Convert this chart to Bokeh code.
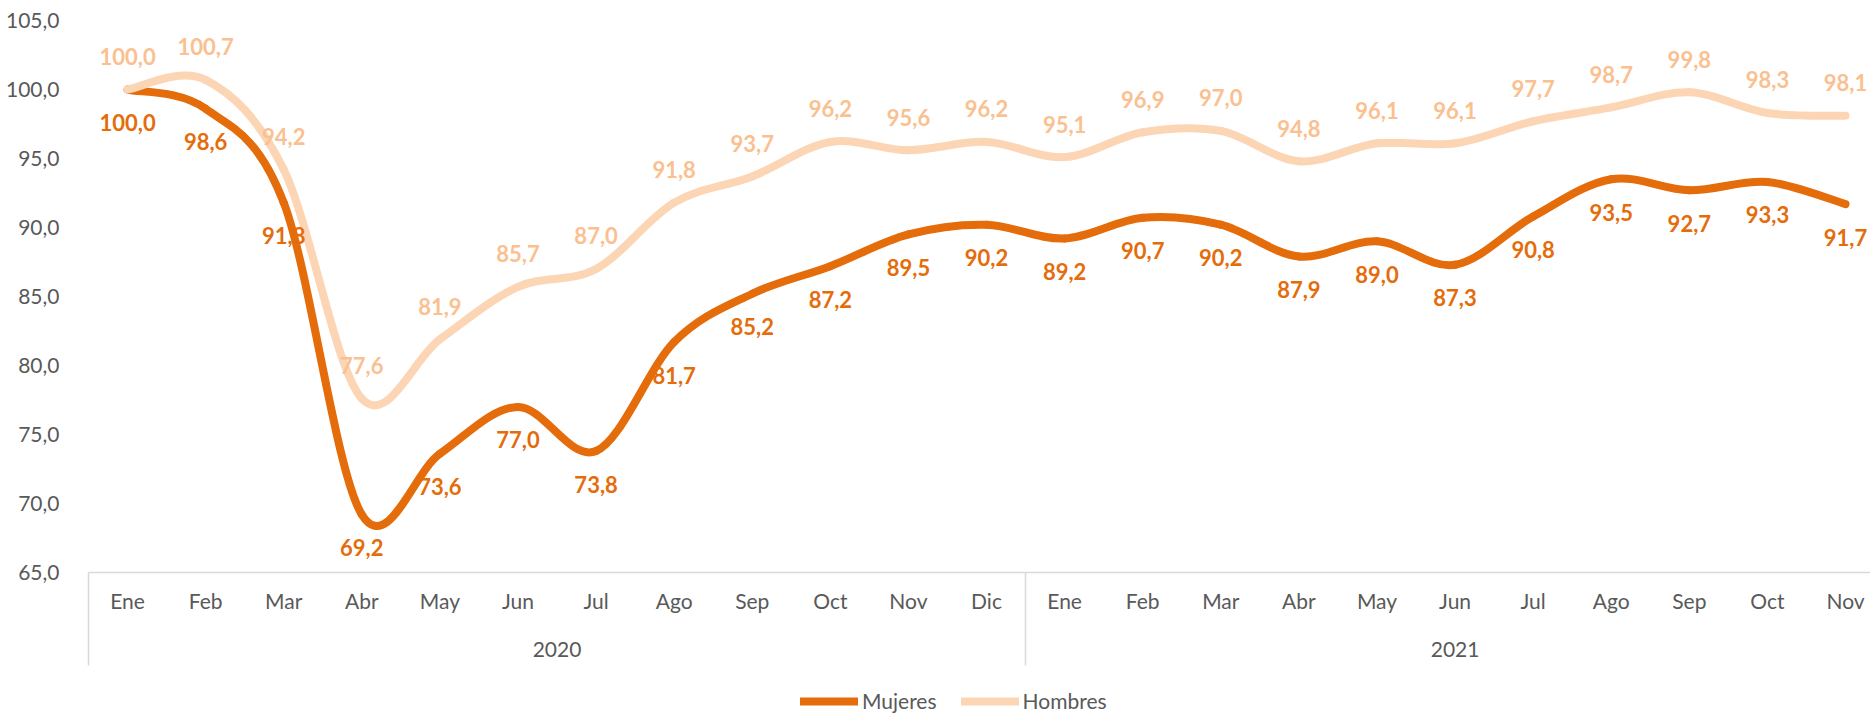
from bokeh.plotting import figure
from bokeh.layouts import column
from bokeh.models import Range1d, LinearAxis, FixedTicker, Legend, LegendItem, ColumnDataSource
from bokeh.core.properties import value
from bokeh.embed import file_html
from bokeh.resources import INLINE

# ---- data ----
months = ["Ene", "Feb", "Mar", "Abr", "May", "Jun", "Jul", "Ago", "Sep", "Oct", "Nov", "Dic",
          "Ene", "Feb", "Mar", "Abr", "May", "Jun", "Jul", "Ago", "Sep", "Oct", "Nov"]
years = ["2020", "2021"]
year_counts = [12, 11]
series_names = ["Mujeres", "Hombres"]
mujeres = [100.0, 98.6, 91.8, 69.2, 73.6, 77.0, 73.8, 81.7, 85.2, 87.2, 89.5, 90.2,
           89.2, 90.7, 90.2, 87.9, 89.0, 87.3, 90.8, 93.5, 92.7, 93.3, 91.7]
hombres = [100.0, 100.7, 94.2, 77.6, 81.9, 85.7, 87.0, 91.8, 93.7, 96.2, 95.6, 96.2,
           95.1, 96.9, 97.0, 94.8, 96.1, 96.1, 97.7, 98.7, 99.8, 98.3, 98.1]
y_ticks = [65, 70, 75, 80, 85, 90, 95, 100, 105]

C_M = "#E46C0A"
C_H_LINE = "#FCD5B5"
C_H_TEXT = "#FAC090"
C_AX = "#595959"
C_GRID = "#D9D9D9"
FONT = "Lato"
SEP_LEN = 93
LW = 8


def fmt(v):
    return f"{v:.1f}".replace(".", ",")


def bezier_source(vals):
    n = len(vals)
    xs = list(range(n))
    d = dict(x0=[], y0=[], x1=[], y1=[], cx0=[], cy0=[], cx1=[], cy1=[])
    for i in range(n - 1):
        im1 = i - 1 if i > 0 else i
        ip2 = i + 2 if i + 2 < n else i + 1
        d["x0"].append(xs[i]); d["y0"].append(vals[i])
        d["x1"].append(xs[i + 1]); d["y1"].append(vals[i + 1])
        d["cx0"].append(xs[i] + (xs[i + 1] - xs[im1]) / 6)
        d["cy0"].append(vals[i] + (vals[i + 1] - vals[im1]) / 6)
        d["cx1"].append(xs[i + 1] - (xs[ip2] - xs[i]) / 6)
        d["cy1"].append(vals[i + 1] - (vals[ip2] - vals[i]) / 6)
    return ColumnDataSource(d)


n = len(months)
p = figure(frame_width=1782, frame_height=552,
           x_range=Range1d(-0.5, 22.32), y_range=Range1d(65, 105),
           x_axis_location=None, output_backend="svg", toolbar_location=None,
           min_border_left=88, min_border_right=0, min_border_top=20, min_border_bottom=96)
p.outline_line_color = None
p.grid.visible = False

# y axis
ya = p.yaxis[0]
ya.ticker = FixedTicker(ticks=y_ticks)
ya.major_label_overrides = {t: fmt(t) for t in y_ticks}
ya.axis_line_color = None
ya.major_tick_line_color = None
ya.minor_tick_line_color = None
ya.major_label_standoff = 23
ya.major_label_text_font = FONT
ya.major_label_text_font_size = "21px"
ya.major_label_text_color = C_AX

# month axis; group separators drawn as long minor ticks
sep = [-0.5]
acc = 0
for c in year_counts[:-1]:
    acc += c
    sep.append(acc - 0.5)
month_axis = LinearAxis(ticker=FixedTicker(ticks=list(range(n)), minor_ticks=sep))
month_axis.major_label_overrides = {i: m for i, m in enumerate(months)}
month_axis.axis_line_color = C_GRID
month_axis.axis_line_width = 1.5
month_axis.major_tick_line_color = None
month_axis.major_tick_out = 0
month_axis.major_tick_in = 0
month_axis.minor_tick_line_color = C_GRID
month_axis.minor_tick_line_width = 1.5
month_axis.minor_tick_in = 0
month_axis.minor_tick_out = SEP_LEN
month_axis.major_label_standoff = 15 - SEP_LEN
month_axis.major_label_text_font = FONT
month_axis.major_label_text_font_size = "21px"
month_axis.major_label_text_color = C_AX
p.add_layout(month_axis, "below")

# year axis
centers = []
acc = 0
for c in year_counts:
    centers.append(acc + (c - 1) / 2)
    acc += c
year_axis = LinearAxis(ticker=FixedTicker(ticks=centers, minor_ticks=[]))
year_axis.major_label_overrides = {c: y for c, y in zip(centers, years)}
year_axis.axis_line_color = None
year_axis.major_tick_line_color = None
year_axis.minor_tick_line_color = None
year_axis.major_tick_out = 0
year_axis.major_tick_in = 0
year_axis.major_label_standoff = 26
year_axis.major_label_text_font = FONT
year_axis.major_label_text_font_size = "21px"
year_axis.major_label_text_color = C_AX
p.add_layout(year_axis, "below")

# lines
r_m = p.bezier(x0="x0", y0="y0", x1="x1", y1="y1", cx0="cx0", cy0="cy0", cx1="cx1", cy1="cy1",
               source=bezier_source(mujeres), line_color=C_M, line_width=LW, line_cap="round")
r_h = p.bezier(x0="x0", y0="y0", x1="x1", y1="y1", cx0="cx0", cy0="cy0", cx1="cx1", cy1="cy1",
               source=bezier_source(hombres), line_color=C_H_LINE, line_width=LW, line_cap="round")

# data labels
src_m = ColumnDataSource(dict(x=list(range(n)), y=mujeres, t=[fmt(v) for v in mujeres]))
src_h = ColumnDataSource(dict(x=list(range(n)), y=hombres, t=[fmt(v) for v in hombres]))
p.text(x="x", y="y", text="t", source=src_m, text_font=value(FONT), text_font_style="bold",
       text_font_size="22px", text_color=C_M, text_align="center", text_baseline="middle",
       y_offset=33)
p.text(x="x", y="y", text="t", source=src_h, text_font=value(FONT), text_font_style="bold",
       text_font_size="22px", text_color=C_H_TEXT, text_align="center", text_baseline="middle",
       y_offset=-33)

# legend strip below the chart (frame aligned with the main chart's frame)
leg_h = 45
p2 = figure(width=1870, height=leg_h, x_range=Range1d(0, 1870), y_range=Range1d(0, leg_h),
            x_axis_location=None, y_axis_location=None, output_backend="svg",
            toolbar_location=None, min_border=0)
p2.outline_line_color = None
p2.grid.visible = False
nan = float("nan")
lm = p2.line(x=[nan], y=[nan], line_color=C_M, line_width=LW, line_cap="round")
lh = p2.line(x=[nan], y=[nan], line_color=C_H_LINE, line_width=LW, line_cap="round")
legend = Legend(items=[LegendItem(label=series_names[0], renderers=[lm]),
                       LegendItem(label=series_names[1], renderers=[lh])],
                orientation="horizontal", location=(712, 0))
legend.glyph_width = 58
legend.glyph_height = 22
legend.label_height = 22
legend.label_standoff = 4
legend.spacing = 24
legend.padding = 0
legend.margin = 0
legend.border_line_color = None
legend.background_fill_alpha = 0
legend.label_text_font = FONT
legend.label_text_font_size = "21px"
legend.label_text_color = C_AX
legend.label_text_baseline = "middle"
p2.add_layout(legend, "center")

layout = column(p, p2, spacing=0)
open("out.html", "w").write(file_html(layout, INLINE))
